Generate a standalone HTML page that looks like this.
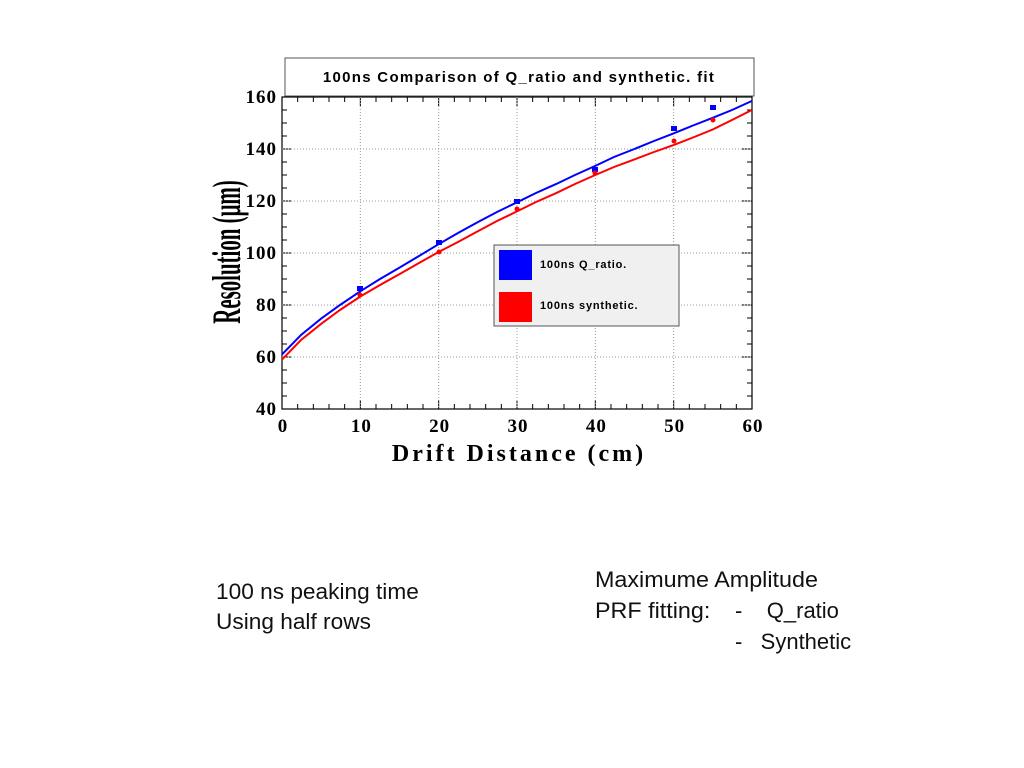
<!DOCTYPE html>
<html><head><meta charset="utf-8"><style>
body{margin:0;width:1024px;height:768px;background:#fff;overflow:hidden;position:relative;font-family:"Liberation Sans",sans-serif}
.t{position:absolute;font-size:22px;color:#111;line-height:30px;white-space:pre;transform-origin:0 0}
</style></head><body>
<svg id="s" width="1024" height="768" style="position:absolute;left:0;top:0">
<rect x="285" y="58" width="469" height="38" fill="#fff" stroke="#555" stroke-width="1"/>
<text x="519" y="82" text-anchor="middle" font-family="Liberation Sans" font-weight="bold" font-size="15" letter-spacing="1.3">100ns Comparison of Q_ratio and synthetic. fit</text>
<rect x="282" y="97" width="470" height="312" fill="#fff" stroke="#000" stroke-width="1.2"/>
<g id="g"></g>
<polyline fill="none" stroke="#00f" stroke-width="2" points="282,354.4 301,335 321.2,318.6 340,305 360.3,291.3 380,279 399.5,267.6 419,256 438.6,244.2 458,233 477.8,222.1 497,212 517,202.3 536,193 556,184.1 575,175 595.3,165.9 614,157 634.4,149 654,141 673.5,133.4 693,125.5 712.7,117.8 732,110 751.8,101"/>
<polyline fill="none" stroke="#f00" stroke-width="2" points="282,359.6 301,340 321.2,323.8 340,310 360.3,296.5 380,285 399.5,274.1 419,263 438.6,252 458,242 477.8,231.2 497,221 517,211.4 536,202 556,193.2 575,184 595.3,175 614,167 634.4,159.4 654,152 673.5,145.1 693,137.5 712.7,129.5 732,120 751.8,110"/>
<g fill="#00f"><rect x="357" y="286" width="6" height="5"/><rect x="436" y="240" width="6" height="5"/><rect x="514" y="199" width="6" height="5"/><rect x="592" y="167" width="6" height="5"/><rect x="671" y="126" width="6" height="5"/><rect x="710" y="105" width="6" height="5"/></g>
<g fill="#f00"><circle cx="360" cy="295" r="2.5"/><circle cx="439" cy="252" r="2.5"/><circle cx="517" cy="209" r="2.5"/><circle cx="595" cy="173" r="2.5"/><circle cx="674" cy="141" r="2.5"/><circle cx="713" cy="120" r="2.5"/></g>
<rect x="494" y="245" width="185" height="81" fill="#f0f0f0" stroke="#555"/>
<rect x="499" y="250" width="33" height="30" fill="#00f"/>
<rect x="499" y="292" width="33" height="30" fill="#f00"/>
<text x="540" y="268" font-family="Liberation Sans" font-weight="bold" font-size="11" letter-spacing="0.8">100ns Q_ratio.</text>
<text x="540" y="309" font-family="Liberation Sans" font-weight="bold" font-size="11" letter-spacing="0.8">100ns synthetic.</text>
<g font-family="Liberation Serif" font-weight="bold" font-size="19" letter-spacing="1" text-anchor="end" id="yl"></g>
<g font-family="Liberation Serif" font-weight="bold" font-size="19" letter-spacing="1" text-anchor="middle" id="xl"></g>
<text x="519" y="461" text-anchor="middle" font-family="Liberation Serif" font-weight="bold" font-size="24" letter-spacing="3">Drift Distance (cm)</text>
<text transform="translate(240,252) rotate(-90) scale(0.55,1.05)" text-anchor="middle" font-family="Liberation Serif" font-weight="bold" font-size="38">Resolution (μm)</text>
</svg>
<div class="t" style="left:216px;top:577px;transform:scale(1.03,1)">100 ns peaking time
Using half rows</div>
<div class="t" style="left:595px;top:564px;line-height:31px;transform:scale(1.06,1)">Maximume Amplitude
PRF fitting:</div>
<div class="t" style="left:735px;top:595px;line-height:31px">-    Q_ratio
-   Synthetic</div>
<script>
var ns="http://www.w3.org/2000/svg",g=document.getElementById("g");
function L(x1,y1,x2,y2,st,dash){var l=document.createElementNS(ns,"line");l.setAttribute("x1",x1);l.setAttribute("y1",y1);l.setAttribute("x2",x2);l.setAttribute("y2",y2);l.setAttribute("stroke",st);l.setAttribute("stroke-width","1");if(dash)l.setAttribute("stroke-dasharray",dash);g.appendChild(l);}
function T(id,x,y,s){var t=document.createElementNS(ns,"text");t.setAttribute("x",x);t.setAttribute("y",y);t.textContent=s;document.getElementById(id).appendChild(t);}
for(var i=0;i<=30;i++){var x=282+i*470/30,len=(i%5==0)?9:5;L(x,409,x,409-len,"#000");L(x,97,x,97+len,"#000");if(i%5==0&&i>0&&i<30)L(x,97,x,409,"#999","1,2");if(i%5==0)T("xl",x+1,432,String(i*2));}
for(var j=0;j<=24;j++){var y=409-j*312/24,len=(j%4==0)?10:5;L(282,y,282+len,y,"#000");L(752,y,752-len,y,"#000");if(j%4==0&&j>0&&j<24)L(282,y,752,y,"#999","1,2");if(j%4==0)T("yl",277,y+6,String(40+j*5));}
</script>
</body></html>
